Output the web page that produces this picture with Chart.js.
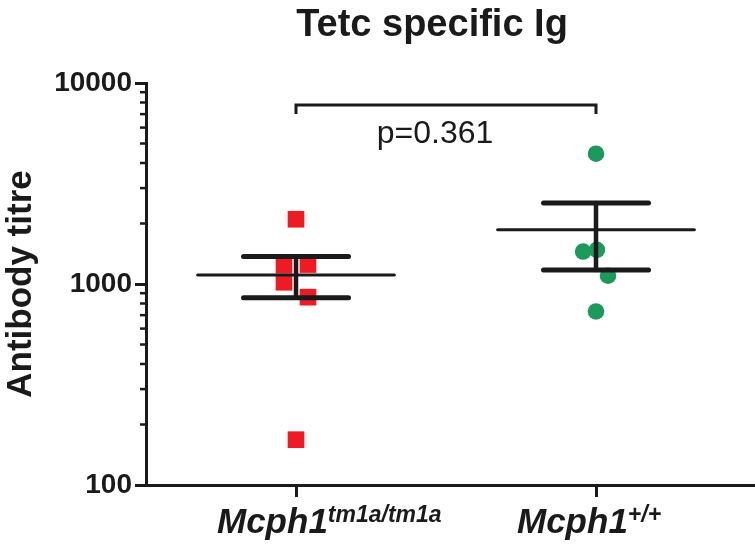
<!DOCTYPE html>
<html>
<head>
<meta charset="utf-8">
<title>Tetc specific Ig</title>
<script src="https://cdn.jsdelivr.net/npm/chart.js@4/dist/chart.umd.min.js"></script>
<style>
  html, body { margin: 0; padding: 0; background: #fff; }
  #wrap { width: 755px; height: 552px; }
</style>
</head>
<body>
<div id="wrap"><canvas id="chart" width="755" height="552"></canvas></div>
<script>
// values
const groupNames = ['Mcph1', 'Mcph1'];
const groupSups = ['tm1a/tm1a', '+/+'];
const koTitres = [2100, 1240, 1250, 1020, 860, 168];
const koJitter = [0, -0.04, 0.04, -0.04, 0.04, 0];
const wtTitres = [4450, 1450, 1480, 1100, 730];
const wtJitter = [0, -0.043, 0.003, 0.04, 0];
const groupMeans = [1110, 1860];
const semLow = [855, 1175];
const semHigh = [1370, 2530];
const yMajorTicks = [100, 1000, 10000];
const yMinorTicks = [200, 300, 400, 500, 600, 700, 800, 900, 2000, 3000, 4000, 5000, 6000, 7000, 8000, 9000];
const pValueLabel = 'p=0.361';
const chartTitle = 'Tetc specific Ig';

const FONT = 'Arial, "Liberation Sans", Helvetica, sans-serif';
const RED = '#ed1c24';
const GREEN = '#1d9a5b';

function seg(x1, y1, x2, y2, width) {
  return {
    type: 'line',
    data: [{ x: x1, y: y1 }, { x: x2, y: y2 }],
    borderColor: '#1a1a1a',
    borderWidth: width,
    borderCapStyle: 'round',
    pointRadius: 0,
    showLine: true,
    order: 0
  };
}

const statSets = [];
groupMeans.forEach((m, i) => {
  statSets.push(seg(i - 0.328, m, i + 0.328, m, 3));
  statSets.push(seg(i, semLow[i], i, semHigh[i], 4.5));
  statSets.push(seg(i - 0.175, semHigh[i], i + 0.175, semHigh[i], 5));
  statSets.push(seg(i - 0.175, semLow[i], i + 0.175, semLow[i], 5));
});

const decor = {
  id: 'decor',
  beforeDraw(chart) {
    const ctx = chart.ctx;
    ctx.save();
    ctx.fillStyle = '#fff';
    ctx.fillRect(0, 0, chart.width, chart.height);
    ctx.restore();
  },
  afterDraw(chart) {
    const ctx = chart.ctx;
    const xs = chart.scales.x, ys = chart.scales.y;
    const area = chart.chartArea;
    ctx.save();

    // title
    ctx.fillStyle = '#1a1a1a';
    ctx.font = 'bold 38px ' + FONT;
    ctx.textAlign = 'center';
    ctx.textBaseline = 'alphabetic';
    ctx.fillText(chartTitle, 432, 36);

    // minor ticks on the log axis
    ctx.strokeStyle = '#1a1a1a';
    ctx.lineWidth = 2.5;
    yMinorTicks.forEach(v => {
      const y = ys.getPixelForValue(v);
      ctx.beginPath();
      ctx.moveTo(area.left - 6, y);
      ctx.lineTo(area.left, y);
      ctx.stroke();
    });

    // significance bracket
    const x0 = xs.getPixelForValue(0), x1 = xs.getPixelForValue(1);
    const by = area.top + 22;
    ctx.lineWidth = 3;
    ctx.lineCap = 'butt';
    ctx.beginPath();
    ctx.moveTo(x0, by + 9);
    ctx.lineTo(x0, by);
    ctx.lineTo(x1, by);
    ctx.lineTo(x1, by + 9);
    ctx.stroke();
    ctx.font = '32px ' + FONT;
    ctx.fillText(pValueLabel, (x0 + x1) / 2 - 11, area.top + 60);

    // category labels with superscripts
    ctx.textAlign = 'left';
    groupNames.forEach((name, i) => {
      const start = xs.getPixelForValue(i) - 79;
      ctx.font = 'italic bold 35px ' + FONT;
      ctx.fillText(name, start, 533);
      const w = ctx.measureText(name).width;
      ctx.font = 'italic bold 23px ' + FONT;
      ctx.fillText(groupSups[i], start + w, 522);
    });
    ctx.restore();
  }
};

new Chart(document.getElementById('chart'), {
  type: 'scatter',
  data: {
    datasets: [
      {
        label: 'tm1a/tm1a',
        data: koTitres.map((v, i) => ({ x: 0 + koJitter[i], y: v })),
        pointStyle: 'rect',
        pointRadius: 11.8,
        pointHoverRadius: 11.8,
        backgroundColor: RED,
        borderWidth: 0,
        order: 1
      },
      {
        label: '+/+',
        data: wtTitres.map((v, i) => ({ x: 1 + wtJitter[i], y: v })),
        pointStyle: 'circle',
        pointRadius: 8.3,
        pointHoverRadius: 8.3,
        backgroundColor: GREEN,
        borderWidth: 0,
        order: 1
      },
      ...statSets
    ]
  },
  options: {
    responsive: false,
    animation: false,
    events: [],
    layout: { autoPadding: false, padding: { top: 83, right: 0, left: 0, bottom: 0 } },
    plugins: {
      legend: { display: false },
      tooltip: { enabled: false },
      title: { display: false }
    },
    scales: {
      x: {
        type: 'linear',
        min: -0.5,
        max: 1.53,
        afterBuildTicks: s => { s.ticks = [{ value: 0 }, { value: 1 }]; },
        afterFit: s => { s.height = 67; s.paddingLeft = 0; s.paddingRight = 0; },
        ticks: { display: false },
        grid: { drawOnChartArea: false, drawTicks: true, tickLength: 12, tickWidth: 3, tickColor: '#1a1a1a' },
        border: { color: '#1a1a1a', width: 3 }
      },
      y: {
        type: 'logarithmic',
        min: 100,
        max: 10000,
        afterBuildTicks: s => { s.ticks = yMajorTicks.map(v => ({ value: v, major: true })); },
        afterFit: s => { s.width = 146; s.paddingTop = 0; s.paddingBottom = 0; },
        ticks: {
          color: '#1a1a1a',
          padding: 3,
          font: { family: FONT, size: 28, weight: 'bold' },
          callback: v => String(v)
        },
        grid: { drawOnChartArea: false, drawTicks: true, tickLength: 11, tickWidth: 3, tickColor: '#1a1a1a' },
        border: { color: '#1a1a1a', width: 3 },
        title: {
          display: true,
          text: 'Antibody titre',
          color: '#1a1a1a',
          font: { family: FONT, size: 35, weight: 'bold' },
          padding: { top: 0, bottom: 0 }
        }
      }
    }
  },
  plugins: [decor]
});
</script>
</body>
</html>
